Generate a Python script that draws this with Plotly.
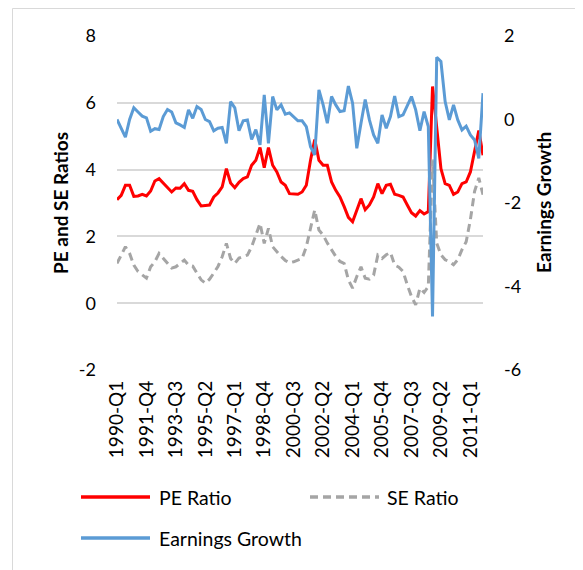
import plotly.graph_objects as go

# ---------------- data ----------------
years = list(range(1990, 2012))
quarters = [f"{y}-Q{q}" for y in years for q in (1, 2, 3, 4)]
x_tick_labels = quarters[::7]

pe_ratio = [3.10, 3.23, 3.53, 3.53, 3.20, 3.21, 3.26, 3.21, 3.36, 3.66,
            3.73, 3.60, 3.46, 3.33, 3.45, 3.44, 3.58, 3.38, 3.35, 3.10,
            2.91, 2.92, 2.94, 3.18, 3.30, 3.48, 4.03, 3.60, 3.46, 3.62,
            3.73, 3.78, 4.13, 4.28, 4.66, 4.06, 4.66, 4.13, 3.93, 3.63,
            3.53, 3.28, 3.26, 3.26, 3.33, 3.53, 4.28, 4.90, 4.28, 4.13,
            4.13, 3.63, 3.38, 3.18, 2.89, 2.57, 2.44, 2.79, 3.13, 2.80,
            2.94, 3.18, 3.58, 3.28, 3.53, 3.56, 3.26, 3.23, 3.18, 2.94,
            2.71, 2.61, 2.77, 2.67, 2.74, 6.49, 5.17, 4.03, 3.58, 3.53,
            3.26, 3.33, 3.58, 3.63, 3.93, 4.58, 5.17, 4.43]

se_ratio = [1.19, 1.45, 1.69, 1.49, 1.14, 0.95, 0.85, 0.75, 1.09, 1.24,
            1.49, 1.35, 1.20, 1.05, 1.09, 1.20, 1.29, 1.14, 1.11, 0.90,
            0.70, 0.60, 0.72, 0.90, 1.10, 1.39, 1.79, 1.34, 1.19, 1.35,
            1.39, 1.44, 1.69, 2.04, 2.39, 1.79, 2.24, 1.69, 1.54, 1.40,
            1.28, 1.21, 1.24, 1.30, 1.34, 1.69, 2.29, 2.79, 2.19, 2.04,
            1.80, 1.60, 1.40, 1.25, 1.19, 0.70, 0.45, 0.80, 1.09, 0.75,
            0.72, 0.84, 1.44, 1.34, 1.45, 1.52, 1.14, 1.08, 0.95, 0.55,
            0.20, -0.05, 0.45, 0.32, 0.50, 4.30, 1.80, 1.45, 1.30, 1.25,
            1.15, 1.30, 1.60, 1.84, 2.50, 3.35, 3.75, 3.25]

earnings_growth = [0.00, -0.22, -0.42, 0.00, 0.28, 0.18, 0.08, 0.04, -0.28, -0.22,
                   -0.24, 0.07, 0.24, 0.18, -0.08, -0.13, -0.19, 0.23, 0.03, 0.31,
                   0.24, 0.00, -0.05, -0.27, -0.21, -0.19, -0.57, 0.43, 0.28, -0.27,
                   -0.03, -0.01, -0.48, -0.24, -0.61, 0.59, -0.57, 0.55, 0.23, 0.35,
                   0.13, 0.16, 0.07, -0.03, -0.03, -0.17, -0.65, -0.85, 0.71, 0.35,
                   -0.09, 0.55, 0.35, 0.19, 0.21, 0.80, 0.39, -0.69, -0.09, 0.48,
                   -0.01, -0.37, -0.57, 0.11, -0.21, 0.07, 0.56, 0.07, 0.11, 0.35,
                   0.55, 0.23, -0.27, 0.19, -0.17, -4.72, 1.49, 1.39, 0.43, -0.01,
                   0.35, -0.01, -0.25, -0.16, -0.37, -0.49, -0.93, 0.63]

left_tick_vals = [-2, 0, 2, 4, 6, 8]
left_tick_text = ["-2", "0", "2", "4", "6", "8"]
right_tick_vals = [-6, -4, -2, 0, 2]
right_tick_text = ["-6", "-4", "-2", "0", "2"]

# ---------------- layout helpers ----------------
# The page body has an 8px margin, so the figure is drawn 8px in from the
# window's top-left corner; the figure is sized to fill the rest of it.
W, H = 575, 562
L, R, T, B = 109, 100, 28, 200
PW, PH = W - L - R, H - T - B
# plot area in window pixels
PX0, PY0 = L + 8, T + 8


def px(x):
    """window-pixel x -> paper x"""
    return (x - PX0) / PW


def py(y):
    """window-pixel y -> paper y"""
    return (PY0 + PH - y) / PH


FONT = "Lato"
RED, GREY, BLUE = "#FF0000", "#A5A5A5", "#5B9BD5"

fig = go.Figure()
fig.add_trace(go.Scatter(x=quarters, y=pe_ratio, name="PE Ratio", mode="lines",
                         line=dict(color=RED, width=3)))
fig.add_trace(go.Scatter(x=quarters, y=se_ratio, name="SE Ratio", mode="lines",
                         line=dict(color=GREY, width=3, dash="8px,5px")))
fig.add_trace(go.Scatter(x=quarters, y=earnings_growth, name="Earnings Growth",
                         mode="lines", yaxis="y2",
                         line=dict(color=BLUE, width=3)))

shapes = [
    # chart-area border (extends past the screenshot on right/bottom)
    dict(type="rect", xref="paper", yref="paper", x0=px(12.5), y0=py(900),
         x1=px(900), y1=py(8.5), line=dict(color="#D9D9D9", width=1), layer="below"),
    # legend samples
    dict(type="line", xref="paper", yref="paper", x0=px(81), x1=px(150),
         y0=py(497), y1=py(497), line=dict(color=RED, width=3.5)),
    dict(type="line", xref="paper", yref="paper", x0=px(310), x1=px(379),
         y0=py(497), y1=py(497), line=dict(color=GREY, width=3.5, dash="8px,5px")),
    dict(type="line", xref="paper", yref="paper", x0=px(81), x1=px(150),
         y0=py(538), y1=py(538), line=dict(color=BLUE, width=3.5)),
]

LEG_FONT = dict(family=FONT, size=19.5, color="#000000")
TITLE_FONT = dict(family=FONT, size=19, color="#000000")
annotations = [
    dict(text="PE Ratio", x=px(157), y=py(497), xref="paper", yref="paper",
         xanchor="left", yanchor="middle", showarrow=False, font=LEG_FONT),
    dict(text="SE Ratio", x=px(385), y=py(497), xref="paper", yref="paper",
         xanchor="left", yanchor="middle", showarrow=False, font=LEG_FONT),
    dict(text="Earnings Growth", x=px(157), y=py(538), xref="paper", yref="paper",
         xanchor="left", yanchor="middle", showarrow=False, font=LEG_FONT),
    dict(text="<b>PE and SE Ratios</b>", x=px(60), y=py(203), xref="paper",
         yref="paper", xanchor="center", yanchor="middle", textangle=-90,
         showarrow=False, font=TITLE_FONT),
    dict(text="<b>Earnings Growth</b>", x=px(543), y=py(203), xref="paper",
         yref="paper", xanchor="center", yanchor="middle", textangle=-90,
         showarrow=False, font=TITLE_FONT),
]

fig.update_layout(
    width=W, height=H,
    margin=dict(l=L, r=R, t=T, b=B, autoexpand=False),
    paper_bgcolor="white", plot_bgcolor="white",
    showlegend=False,
    font=dict(family=FONT, size=16, color="#000000"),
    xaxis=dict(type="category", range=[0, len(quarters) - 1],
               tickmode="array", tickvals=x_tick_labels, ticktext=x_tick_labels,
               tickangle=-90, showgrid=False, showline=False, zeroline=False,
               ticks="", ticklabelstandoff=6,
               tickfont=dict(family=FONT, size=19, color="#000000")),
    yaxis=dict(range=[-2, 8], tickmode="array", tickvals=left_tick_vals,
               ticktext=left_tick_text, showgrid=True, gridcolor="#D9D9D9",
               gridwidth=1.5, zeroline=False, showline=False, ticks="",
               ticklabelstandoff=20,
               tickfont=dict(family=FONT, size=18, color="#000000")),
    yaxis2=dict(range=[-6, 2], overlaying="y", side="right", tickmode="array",
                tickvals=right_tick_vals, ticktext=right_tick_text,
                showgrid=False, zeroline=False, showline=False, ticks="",
                ticklabelstandoff=20,
                tickfont=dict(family=FONT, size=18, color="#000000")),
    shapes=shapes,
    annotations=annotations,
)

fig.write_html("out.html")
